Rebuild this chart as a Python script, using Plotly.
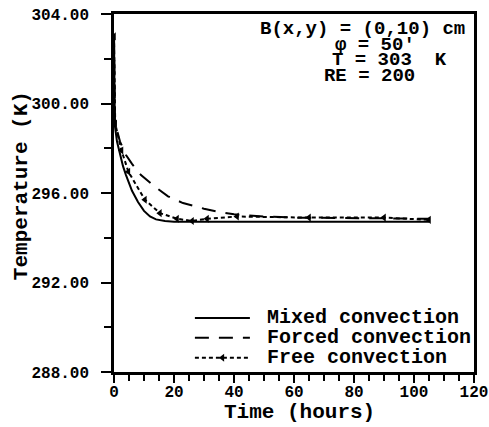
import plotly.graph_objects as go

# ---- data ----
mixed_t = [0, 0.3, 1, 2, 3, 4, 5, 6, 8, 10, 12, 14, 17, 20, 30, 50, 70, 90, 105]
mixed_T = [303.0, 299.0, 298.3, 297.7, 297.2, 296.8, 296.4, 296.1, 295.6, 295.2,
           294.95, 294.82, 294.75, 294.72, 294.72, 294.72, 294.72, 294.72, 294.72]

forced_t = [0, 0.3, 1, 2, 4, 6, 9, 13, 18, 23, 30, 35, 40, 50, 60, 80, 105]
forced_T = [303.0, 299.3, 298.8, 298.3, 297.7, 297.3, 296.8, 296.35, 295.85, 295.55,
            295.3, 295.15, 295.05, 294.95, 294.9, 294.88, 294.85]

free_t = [0, 0.4, 2.5, 4.8, 10.3, 15.3, 21, 26, 31, 41, 65, 90, 105]
free_T = [303.0, 299.1, 297.9, 296.95, 295.7, 295.1, 294.85, 294.75, 294.85, 294.95,
          294.9, 294.9, 294.8]

series_names = ["Mixed convection", "Forced convection", "Free convection"]

x_ticks = [0, 20, 40, 60, 80, 100, 120]
y_ticks = [288, 292, 296, 300, 304]
y_tick_text = ["288.00", "292.00", "296.00", "300.00", "304.00"]

info_lines = ["B(x,y) = (0,10) cm", "φ = 50'", "T = 303\u00a0\u00a0K", "RE = 200"]
info_indent_px = [0, 75, 72, 64]   # left indent of each info line

FONT = "Liberation Mono"

def leg(name):
    return '<span style="font-size:20px">\u00a0' + name + '</span>'

fig = go.Figure()
fig.add_trace(go.Scatter(x=mixed_t, y=mixed_T, mode="lines", name=leg(series_names[0]),
                         line=dict(color="black", width=2, dash="solid")))
fig.add_trace(go.Scatter(x=forced_t, y=forced_T, mode="lines", name=leg(series_names[1]),
                         line=dict(color="black", width=2, dash="14px,10px")))
fig.add_trace(go.Scatter(x=free_t, y=free_T, mode="lines+markers", name=leg(series_names[2]),
                         line=dict(color="black", width=2, dash="4px,3px"),
                         marker=dict(symbol="triangle-left", size=7, color="black")))

axis_common = dict(showline=True, linecolor="black", linewidth=2.5, mirror=True,
                   showgrid=False, zeroline=False, ticks="outside", tickcolor="black",
                   tickwidth=2, automargin=False,
                   tickfont=dict(family=FONT, size=16, color="black", weight="bold"))

fig.update_xaxes(range=[0, 120], tickvals=x_ticks, ticklen=8, ticklabelstandoff=-5,
                 minor=dict(dtick=5, ticks="outside", ticklen=6, tickwidth=2, tickcolor="black"),
                 **axis_common)
fig.update_yaxes(range=[288, 304], tickvals=y_ticks, ticktext=y_tick_text, ticklen=10,
                 ticklabelstandoff=9,
                 minor=dict(dtick=2, ticks="outside", ticklen=7, tickwidth=2, tickcolor="black"),
                 **axis_common)

# one multi-line info block: small base font gives tight line spacing,
# inner spans carry the visible glyph size
info_parts = []
for txt, indent in zip(info_lines, info_indent_px):
    spacer = ""
    if indent > 0:
        spacer = '<span style="font-size:%.2fpx">%s</span>' % (indent / 3.6, "\u00a0" * 6)
    info_parts.append(spacer + '<span style="font-size:19px">' + txt + '</span>')
info_text = "<br>".join(info_parts)

annotations = [dict(text=info_text, xref="paper", yref="paper",
                    x=(258 - 114) / 360.5, y=(372 - 53) / 358,
                    xanchor="left", yanchor="middle", align="left", showarrow=False,
                    font=dict(family=FONT, size=12, color="black", weight="bold"))]
annotations.append(dict(text="Time (hours)", xref="paper", yref="paper",
                        x=(300 - 114) / 360.5, y=(372 - 413) / 358,
                        xanchor="center", yanchor="middle", showarrow=False,
                        font=dict(family=FONT, size=21, color="black", weight="bold")))
annotations.append(dict(text="Temperature (K)", xref="paper", yref="paper",
                        x=(21 - 114) / 360.5, y=(372 - 186) / 358, textangle=-90,
                        xanchor="center", yanchor="middle", showarrow=False,
                        font=dict(family=FONT, size=21, color="black", weight="bold")))

fig.update_layout(
    width=489, height=427,
    margin=dict(l=114, r=14.5, t=14, b=55, autoexpand=False),
    paper_bgcolor="white", plot_bgcolor="white",
    showlegend=True,
    legend=dict(x=(190 - 114) / 360.5, y=(372 - 303) / 358, xanchor="left", yanchor="top",
                bgcolor="rgba(0,0,0,0)", borderwidth=0, itemwidth=55,
                font=dict(family=FONT, size=13, color="black", weight="bold"),
                tracegroupgap=0),
    annotations=annotations,
)

fig.write_html("out.html", config={"displayModeBar": False},
               post_script="document.body.style.margin='0';document.body.style.overflow='hidden';")
